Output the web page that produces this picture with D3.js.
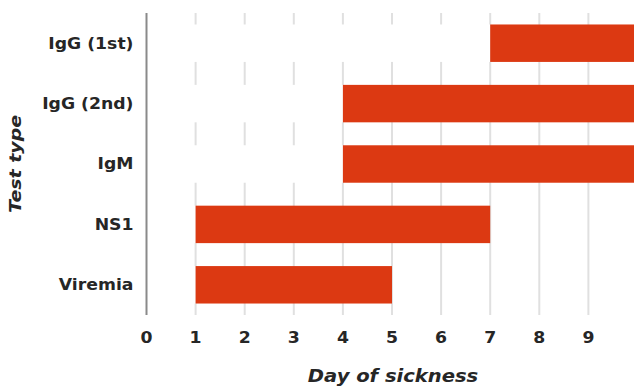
<!DOCTYPE html>
<html>
<head>
<meta charset="utf-8">
<script src="https://cdn.jsdelivr.net/npm/d3@7"></script>
<style>
  html, body { margin: 0; padding: 0; background: #fff; }
  svg { display: block; }
  text { font-family: "DejaVu Sans", "Liberation Sans", sans-serif; font-weight: bold; fill: #262626; }
</style>
</head>
<body>
<svg id="chart" width="634" height="387"></svg>
<script>
// ---- data ----
const categories = ["IgG (1st)", "IgG (2nd)", "IgM", "NS1", "Viremia"];
const startDay   = [7, 4, 4, 1, 1];      // invisible (white) leading segment
const duration   = [3, 6, 6, 6, 4];      // visible red segment
const xTicks     = [0, 1, 2, 3, 4, 5, 6, 7, 8, 9];
const xTitle = "Day of sickness";
const yTitle = "Test type";

// ---- layout ----
const svg = d3.select("#chart");
const plot = { left: 146.5, right: 637.5, top: 13, bottom: 315 };
const SX = 1.15; // horizontal stretch of the lettering

const x = d3.scaleLinear().domain([0, 10]).range([plot.left, plot.right]);
const y = d3.scaleBand().domain(categories).range([plot.top, plot.bottom])
  .paddingInner(0.38).paddingOuter(0.19);

const rows = categories.map((c, i) => ({ cat: c, start: startDay[i], dur: duration[i] }));

// gridlines
svg.append("g").selectAll("line")
  .data(xTicks.filter(d => d > 0).concat([10]))
  .join("line")
  .attr("x1", d => x(d)).attr("x2", d => x(d))
  .attr("y1", plot.top).attr("y2", plot.bottom)
  .attr("stroke", "#e0e0e0").attr("stroke-width", 2);

// stacked bars: white leading segment then red segment
const bars = svg.append("g");
bars.selectAll("rect.lead").data(rows).join("rect")
  .attr("class", "lead")
  .attr("x", x(0)).attr("width", d => x(d.start) - x(0))
  .attr("y", d => y(d.cat)).attr("height", y.bandwidth())
  .attr("fill", "#ffffff");
bars.selectAll("rect.bar").data(rows).join("rect")
  .attr("class", "bar")
  .attr("x", d => x(d.start)).attr("width", d => x(d.start + d.dur) - x(d.start))
  .attr("y", d => y(d.cat)).attr("height", y.bandwidth())
  .attr("fill", "#dc3912");

// y axis line
svg.append("line")
  .attr("x1", x(0)).attr("x2", x(0))
  .attr("y1", plot.top).attr("y2", plot.bottom)
  .attr("stroke", "#8a8a8a").attr("stroke-width", 2);

// category labels
svg.append("g").selectAll("text").data(categories).join("text")
  .attr("transform", d => `translate(${x(0) - 13},${y(d) + y.bandwidth() / 2}) scale(${SX},1)`)
  .attr("text-anchor", "end").attr("dy", "0.36em")
  .style("font-size", "15px")
  .text(d => d);

// x tick labels
svg.append("g").selectAll("text").data(xTicks).join("text")
  .attr("transform", d => `translate(${x(d)},343) scale(${SX},1)`)
  .attr("text-anchor", "middle")
  .style("font-size", "15px")
  .text(d => d);

// axis titles
svg.append("text")
  .attr("transform", `translate(${(x(0) + x(10)) / 2 + 1},382) scale(${SX},1)`)
  .attr("text-anchor", "middle")
  .style("font-size", "17px").style("font-style", "italic")
  .text(xTitle);

svg.append("text")
  .attr("transform", `translate(21,${y("IgM") + y.bandwidth() / 2}) rotate(-90) scale(${SX},1)`)
  .attr("text-anchor", "middle")
  .style("font-size", "16.5px").style("font-style", "italic")
  .text(yTitle);
</script>
</body>
</html>
